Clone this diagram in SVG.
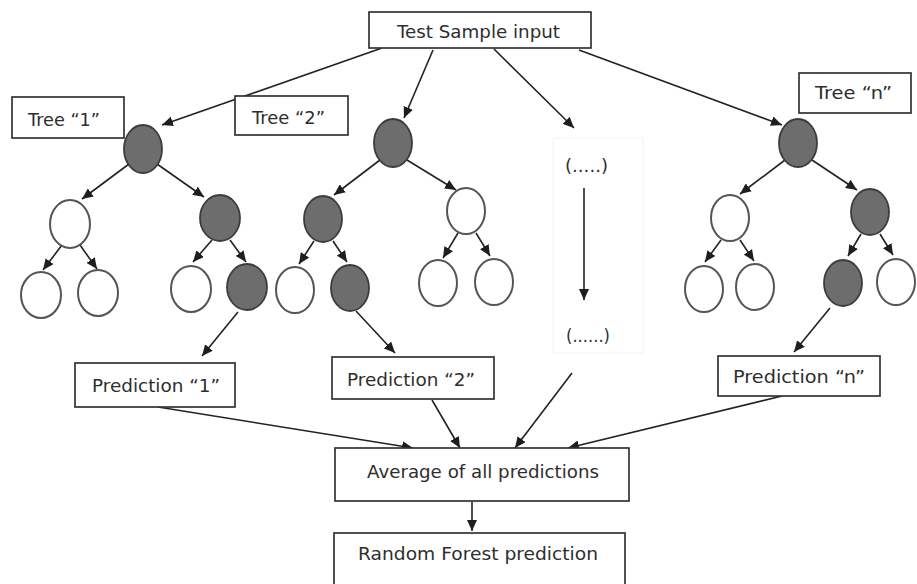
<svg xmlns="http://www.w3.org/2000/svg" width="917" height="584" viewBox="0 0 917 584">
<defs>
<marker id="ah" markerUnits="userSpaceOnUse" markerWidth="12" markerHeight="10" refX="11" refY="5" orient="auto"><path d="M0,0 L11,5 L0,10 Z" fill="#1e1e1e"/></marker>
<style>
.box{fill:#fff;stroke:#333;stroke-width:1.7}
.lbl{font-family:"DejaVu Sans",Verdana,sans-serif;font-size:17px;fill:#2e2e2e}
.g{fill:#6d6d6d;stroke:#3c3c3c;stroke-width:1.8}
.w{fill:#fff;stroke:#555;stroke-width:2}
.c line{stroke:#222;stroke-width:1.6;marker-end:url(#ah)}
</style>
</defs>
<rect width="917" height="584" fill="#fff"/>
<rect x="553" y="138" width="90" height="215" fill="#fff" stroke="#f3f3f3" stroke-width="1"/>
<g class="c" id="connectors">
<line x1="382" y1="48" x2="162" y2="125"/>
<line x1="433" y1="50" x2="404" y2="118"/>
<line x1="494" y1="49" x2="574" y2="128"/>
<line x1="579" y1="50" x2="782" y2="125"/>
<line x1="129" y1="164" x2="82" y2="199"/>
<line x1="157" y1="164" x2="204" y2="197"/>
<line x1="62" y1="245" x2="43" y2="270"/>
<line x1="80" y1="245" x2="97" y2="269"/>
<line x1="212" y1="240" x2="193" y2="262"/>
<line x1="230" y1="240" x2="246" y2="262"/>
<line x1="238" y1="312" x2="202" y2="356"/>
<line x1="380" y1="160" x2="334" y2="195"/>
<line x1="407" y1="160" x2="456" y2="190"/>
<line x1="314" y1="241" x2="299" y2="264"/>
<line x1="333" y1="241" x2="347" y2="262"/>
<line x1="458" y1="233" x2="443" y2="258"/>
<line x1="476" y1="233" x2="490" y2="256"/>
<line x1="356" y1="311" x2="395" y2="353"/>
<line x1="584" y1="188" x2="584" y2="300"/>
<line x1="785" y1="160" x2="740" y2="194"/>
<line x1="812" y1="160" x2="857" y2="190"/>
<line x1="721" y1="240" x2="705" y2="262"/>
<line x1="740" y1="240" x2="754" y2="261"/>
<line x1="861" y1="234" x2="848" y2="256"/>
<line x1="880" y1="234" x2="893" y2="255"/>
<line x1="830" y1="308" x2="794" y2="352"/>
<line x1="158" y1="407" x2="413" y2="448"/>
<line x1="432" y1="400" x2="460" y2="448"/>
<line x1="572" y1="373" x2="515" y2="448"/>
<line x1="782" y1="396" x2="568" y2="448"/>
<line x1="472" y1="502" x2="472" y2="531"/>
</g>
<g id="test-input"><rect class="box" x="369" y="12" width="222" height="36"/><text class="lbl" x="397" y="38" textLength="163" lengthAdjust="spacingAndGlyphs">Test Sample input</text></g>
<g id="tree1-label"><rect class="box" x="12" y="97" width="112" height="41"/><text class="lbl" x="28" y="126" textLength="72" lengthAdjust="spacingAndGlyphs">Tree “1”</text></g>
<g id="tree2-label"><rect class="box" x="235" y="96" width="113" height="39"/><text class="lbl" x="252" y="124" textLength="73" lengthAdjust="spacingAndGlyphs">Tree “2”</text></g>
<g id="treen-label"><rect class="box" x="799" y="73" width="112" height="40"/><text class="lbl" x="815" y="99" textLength="77" lengthAdjust="spacingAndGlyphs">Tree “n”</text></g>
<g id="t1-root"><ellipse class="g" cx="143" cy="149" rx="19" ry="24"/></g>
<g id="t1-l"><ellipse class="w" cx="70" cy="224" rx="20" ry="24"/></g>
<g id="t1-r"><ellipse class="g" cx="220" cy="218" rx="20" ry="23"/></g>
<g id="t1-ll"><ellipse class="w" cx="41" cy="295" rx="20" ry="23"/></g>
<g id="t1-lr"><ellipse class="w" cx="98" cy="293" rx="20" ry="23"/></g>
<g id="t1-rl"><ellipse class="w" cx="191" cy="289" rx="20" ry="23"/></g>
<g id="t1-rr"><ellipse class="g" cx="247" cy="287" rx="20" ry="23"/></g>
<g id="t2-root"><ellipse class="g" cx="393" cy="143" rx="19" ry="24"/></g>
<g id="t2-l"><ellipse class="g" cx="323" cy="219" rx="19" ry="23"/></g>
<g id="t2-r"><ellipse class="w" cx="466" cy="211" rx="19" ry="23"/></g>
<g id="t2-ll"><ellipse class="w" cx="295" cy="290" rx="19" ry="23"/></g>
<g id="t2-lr"><ellipse class="g" cx="350" cy="288" rx="19" ry="23"/></g>
<g id="t2-rl"><ellipse class="w" cx="438" cy="283" rx="19" ry="23"/></g>
<g id="t2-rr"><ellipse class="w" cx="494" cy="282" rx="19" ry="23"/></g>
<g id="tn-root"><ellipse class="g" cx="798" cy="143" rx="19" ry="24"/></g>
<g id="tn-l"><ellipse class="w" cx="730" cy="218" rx="19" ry="23"/></g>
<g id="tn-r"><ellipse class="g" cx="870" cy="212" rx="19" ry="23"/></g>
<g id="tn-ll"><ellipse class="w" cx="704" cy="289" rx="19" ry="23"/></g>
<g id="tn-lr"><ellipse class="w" cx="755" cy="287" rx="19" ry="23"/></g>
<g id="tn-rl"><ellipse class="g" cx="843" cy="283" rx="19" ry="23"/></g>
<g id="tn-rr"><ellipse class="w" cx="896" cy="282" rx="19" ry="23"/></g>
<g id="dots-top"><text class="lbl" x="565" y="172" textLength="43" lengthAdjust="spacingAndGlyphs">(.....)</text></g>
<g id="dots-bottom"><text class="lbl" x="566" y="342" textLength="44" lengthAdjust="spacingAndGlyphs">(......)</text></g>
<g id="pred1"><rect class="box" x="75" y="363" width="160" height="44"/><text class="lbl" x="92" y="392" textLength="128" lengthAdjust="spacingAndGlyphs">Prediction “1”</text></g>
<g id="pred2"><rect class="box" x="332" y="357" width="162" height="42"/><text class="lbl" x="347" y="386" textLength="128" lengthAdjust="spacingAndGlyphs">Prediction “2”</text></g>
<g id="predn"><rect class="box" x="718" y="356" width="162" height="40"/><text class="lbl" x="733" y="383" textLength="132" lengthAdjust="spacingAndGlyphs">Prediction “n”</text></g>
<g id="average"><rect class="box" x="335" y="448" width="294" height="53"/><text class="lbl" x="367" y="478" textLength="232" lengthAdjust="spacingAndGlyphs">Average of all predictions</text></g>
<g id="rf"><rect class="box" x="334" y="533" width="291" height="60"/><text class="lbl" x="358" y="560" textLength="240" lengthAdjust="spacingAndGlyphs">Random Forest prediction</text></g>
</svg>
